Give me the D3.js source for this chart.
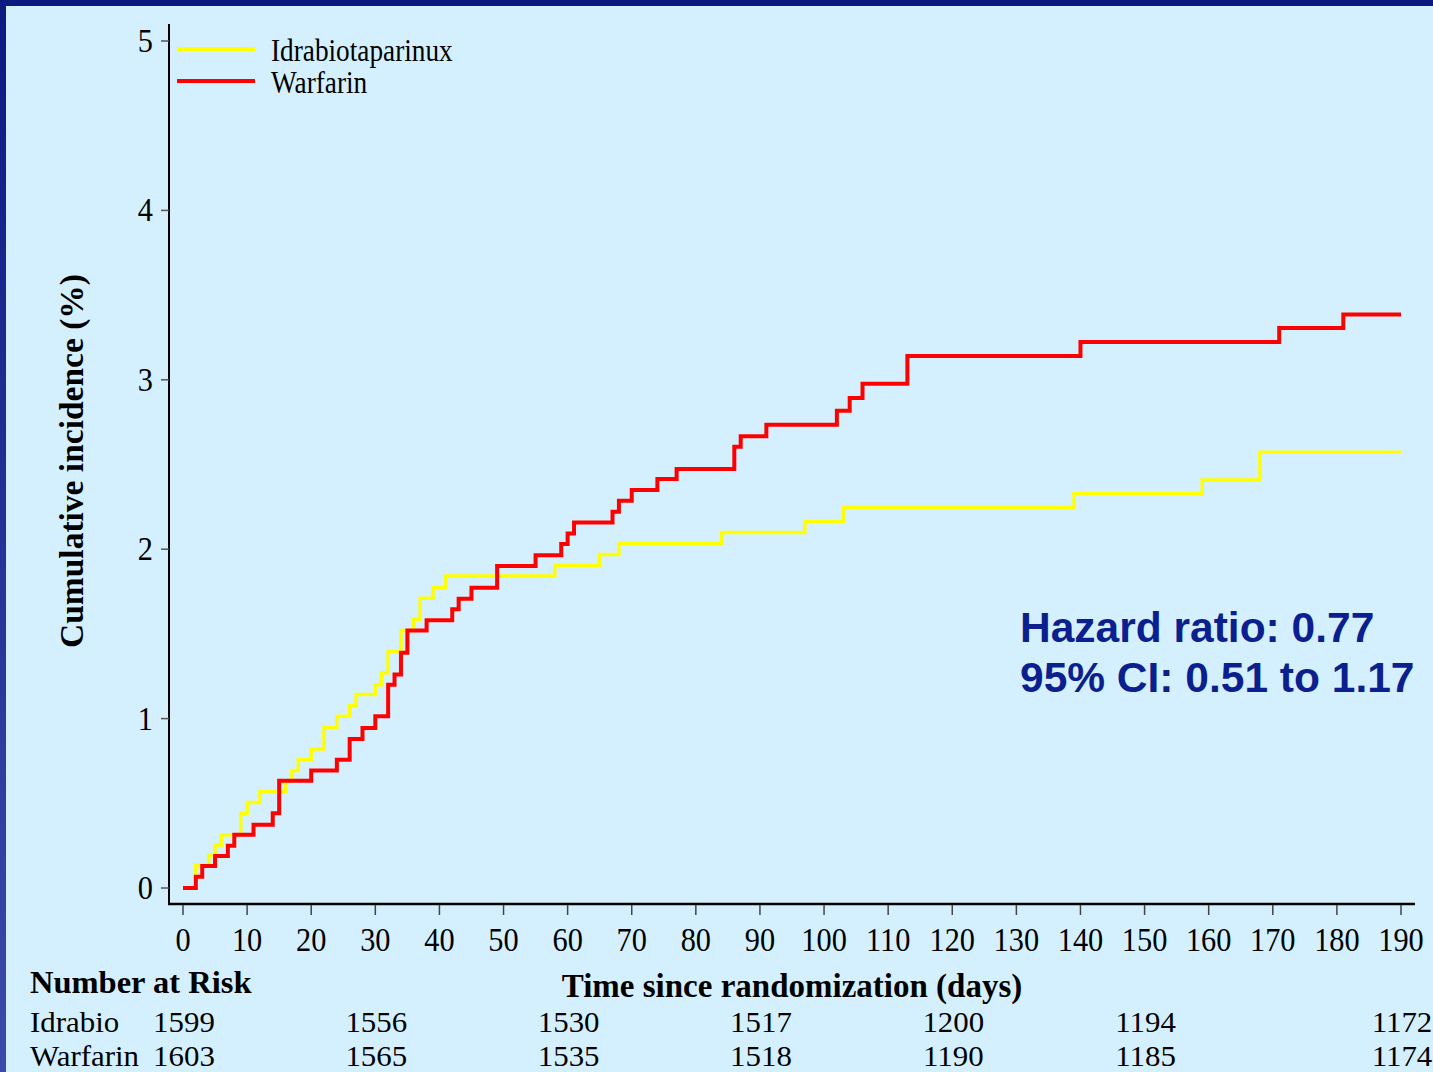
<!DOCTYPE html>
<html>
<head>
<meta charset="utf-8">
<script src="https://cdn.jsdelivr.net/npm/d3@7"></script>
<style>
  html, body { margin: 0; padding: 0; background: #d4f0fe; }
  svg { display: block; }
</style>
</head>
<body>
<div id="chart"></div>
<script>
// cumulative incidence (%), step after each day
const idraDays = [0, 2, 4, 5, 6, 9, 10, 12, 16, 17, 18, 20, 22, 24, 26, 27, 30, 31, 32, 34, 36, 37, 39, 41, 58, 65, 68, 84, 97, 103, 139, 159, 168, 190]
const idraValues = [0, 0.136, 0.195, 0.254, 0.314, 0.442, 0.505, 0.57, 0.633, 0.694, 0.757, 0.82, 0.948, 1.014, 1.077, 1.142, 1.20, 1.27, 1.398, 1.52, 1.586, 1.71, 1.773, 1.842, 1.905, 1.969, 2.034, 2.099, 2.164, 2.247, 2.327, 2.408, 2.572, 2.572]

const warfDays = [0, 2, 3, 5, 7, 8, 11, 14, 15, 20, 24, 26, 28, 30, 32, 33, 34, 35, 38, 42, 43, 45, 49, 55, 59, 60, 61, 67, 68, 70, 74, 77, 86, 87, 91, 102, 104, 106, 113, 140, 171, 181, 190]
const warfValues = [0, 0.067, 0.130, 0.189, 0.250, 0.314, 0.373, 0.442, 0.633, 0.694, 0.757, 0.88, 0.945, 1.014, 1.20, 1.26, 1.389, 1.52, 1.58, 1.645, 1.708, 1.773, 1.901, 1.964, 2.03, 2.093, 2.158, 2.221, 2.286, 2.349, 2.414, 2.473, 2.605, 2.667, 2.734, 2.818, 2.893, 2.976, 3.14, 3.223, 3.306, 3.386, 3.386]

const xTicks = d3.range(0, 191, 10)
const yTicks = [0, 1, 2, 3, 4, 5]

// number at risk table
const riskDays = [0, 30, 60, 90, 120, 150, 190]
const riskIdra = [1599, 1556, 1530, 1517, 1200, 1194, 1172]
const riskWarf = [1603, 1565, 1535, 1518, 1190, 1185, 1174]

const series = [
  { name: "Idrabiotaparinux", days: idraDays, values: idraValues, color: "#ffff00", width: 3.5 },
  { name: "Warfarin", days: warfDays, values: warfValues, color: "#ff0000", width: 4 }
]

const width = 1433
const height = 1072
const serif = "'Liberation Serif', 'Times New Roman', serif"

let svg = d3.select("#chart")
  .append("svg")
  .attr("width", width)
  .attr("height", height)

// frame: light background with the dark slide border on top and left
let defs = svg.append("defs")
let grad = defs.append("linearGradient")
  .attr("id", "leftEdge")
  .attr("x1", 0).attr("y1", 0).attr("x2", 0).attr("y2", 1)
grad.append("stop").attr("offset", "0%").attr("stop-color", "#0c1a80")
grad.append("stop").attr("offset", "100%").attr("stop-color", "#3e4aaa")

svg.append("rect").attr("width", width).attr("height", height).attr("fill", "#d4f0fe")
svg.append("rect").attr("width", 6).attr("height", height).attr("fill", "url(#leftEdge)")
svg.append("rect").attr("width", width).attr("height", 6).attr("fill", "#0c1a80")

let x = d3.scaleLinear().domain([0, 190]).range([183, 1401])
let y = d3.scaleLinear().domain([0, 5]).range([888, 41])

// condensed text helper (the slide squeezed its labels horizontally)
function label(g, px, py, txt, size, sx, anchor, weight) {
  return g.append("text")
    .attr("transform", "translate(" + px + "," + py + ") scale(" + sx + ",1)")
    .attr("text-anchor", anchor || "start")
    .style("font-family", serif)
    .style("font-size", size + "px")
    .style("font-weight", weight || "normal")
    .style("fill", "#000")
    .text(txt)
}

// axes
let axes = svg.append("g")
axes.append("line")
  .attr("x1", 169).attr("x2", 169).attr("y1", 24).attr("y2", 905)
  .attr("stroke", "#000").attr("stroke-width", 2)
axes.append("line")
  .attr("x1", 168).attr("x2", 1415).attr("y1", 904).attr("y2", 904)
  .attr("stroke", "#000").attr("stroke-width", 2.5)

axes.selectAll(".ytick")
  .data(yTicks)
  .enter().append("line")
  .attr("x1", 161).attr("x2", 169)
  .attr("y1", d => y(d)).attr("y2", d => y(d))
  .attr("stroke", "#555").attr("stroke-width", 1.5)

yTicks.forEach(d => label(axes, 153, y(d) + 11, d, 33, 0.92, "end"))

axes.selectAll(".xtick")
  .data(xTicks)
  .enter().append("line")
  .attr("x1", d => x(d)).attr("x2", d => x(d))
  .attr("y1", 905).attr("y2", 915)
  .attr("stroke", "#444").attr("stroke-width", 1.5)

xTicks.forEach(d => label(axes, x(d), 951, d, 33, 0.92, "middle"))

// axis titles
svg.append("text")
  .attr("transform", "translate(83,461) rotate(-90)")
  .attr("text-anchor", "middle")
  .style("font-family", serif)
  .style("font-size", "33.5px")
  .style("font-weight", "bold")
  .text("Cumulative incidence (%)")

label(svg, x(95), 997, "Time since randomization (days)", 33, 1.0, "middle", "bold")

// step curves
let line = d3.line()
  .curve(d3.curveStepAfter)
  .x(d => x(d[0]))
  .y(d => y(d[1]))

svg.append("g")
  .selectAll("path")
  .data(series)
  .enter().append("path")
  .attr("d", s => line(d3.zip(s.days, s.values)))
  .attr("fill", "none")
  .attr("stroke", s => s.color)
  .attr("stroke-width", s => s.width)
  .attr("stroke-linejoin", "miter")

// legend
let legend = svg.append("g")
series.forEach((s, i) => {
  legend.append("line")
    .attr("x1", 177).attr("x2", 255)
    .attr("y1", 49 + i * 32).attr("y2", 49 + i * 32)
    .attr("stroke", s.color).attr("stroke-width", 4)
  label(legend, 271, 61 + i * 32, s.name, 31, 0.88)
})

// hazard ratio note
let note = svg.append("g")
  .style("font-family", "'Liberation Sans', Arial, sans-serif")
  .style("font-size", "42.5px")
  .style("font-weight", "bold")
  .style("fill", "#0b1f8f")
note.append("text").attr("x", 1020).attr("y", 642).text("Hazard ratio: 0.77")
note.append("text").attr("x", 1020).attr("y", 692).text("95% CI: 0.51 to 1.17")

// number at risk table
let risk = svg.append("g")
label(risk, 30, 993, "Number at Risk", 32.5, 1.0, "start", "bold")
label(risk, 30, 1032, "Idrabio", 30, 1.03)
label(risk, 30, 1066, "Warfarin", 30, 1.03)
riskDays.forEach((d, i) => {
  label(risk, x(d) + 1, 1032, riskIdra[i], 30, 1.03, "middle")
  label(risk, x(d) + 1, 1066, riskWarf[i], 30, 1.03, "middle")
})
</script>
</body>
</html>
